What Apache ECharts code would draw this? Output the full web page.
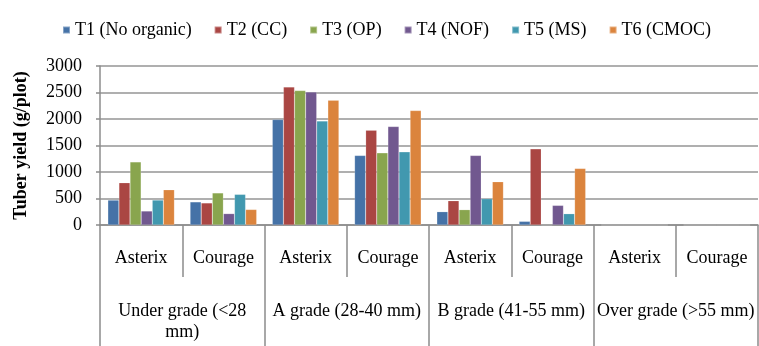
<!DOCTYPE html>
<html><head><meta charset="utf-8">
<script src="https://cdn.jsdelivr.net/npm/echarts@6/dist/echarts.min.js"></script>
<style>html,body{margin:0;padding:0;background:#fff}#c{width:759px;height:346px}</style>
</head><body><div id="c"></div>
<script>
const varieties = ['Asterix','Courage','Asterix','Courage','Asterix','Courage','Asterix','Courage'];
const grades = ['Under grade (<28\nmm)','A grade (28-40 mm)','B grade (41-55 mm)','Over grade (>55 mm)'];
const seriesNames = ['T1 (No organic)','T2 (CC)','T3 (OP)','T4 (NOF)','T5 (MS)','T6 (CMOC)'];
const T1 = [470, 436, 1990, 1312, 251, 69, 0, 0];
const T2 = [797, 416, 2605, 1789, 458, 1437, 0, 0];
const T3 = [1190, 605, 2536, 1362, 289, 0, 0, 0];
const T4 = [264, 215, 2510, 1858, 1312, 370, 0, 0];
const T5 = [471, 578, 1964, 1381, 496, 213, 0, 0];
const T6 = [665, 293, 2353, 2159, 816, 1067, 0, 0];
const yTicks = [0, 500, 1000, 1500, 2000, 2500, 3000];
const colors = ['#4572A7','#AA4643','#89A54E','#71588F','#4198AF','#DB843D'];
const values = [T1, T2, T3, T4, T5, T6];
const font = 'Liberation Serif, Times New Roman, serif';
const chart = echarts.init(document.getElementById('c'));
chart.setOption({
  animation: false,
  textStyle: {fontFamily: font, color: '#000'},
  legend: {
    left: 57, top: 16, itemWidth: 7, itemHeight: 7, itemGap: 22,
    icon: 'rect',
    textStyle: {fontFamily: font, fontSize: 18, color: '#000'},
    data: seriesNames
  },
  grid: {left: 100, right: 1, top: 66, bottom: 121},
  xAxis: [{
    type: 'category', data: varieties, position: 'bottom',
    axisLine: {lineStyle: {color: '#8c8c8c', width: 1.5}},
    axisTick: {show: true, interval: 0, length: 52, lineStyle: {color: '#8c8c8c', width: 1.5}},
    axisLabel: {interval: 0, fontFamily: font, fontSize: 18, color: '#000', margin: 24}
  }, {
    type: 'category', data: grades, position: 'bottom',
    axisLine: {show: false},
    axisTick: {show: true, interval: 0, length: 121, lineStyle: {color: '#8c8c8c', width: 1.5}},
    axisLabel: {interval: 0, fontFamily: font, fontSize: 18, color: '#000', margin: 76, lineHeight: 21, verticalAlign: 'top'}
  }],
  yAxis: {
    type: 'value', min: 0, max: 3000, interval: 500,
    name: 'Tuber yield (g/plot)', nameLocation: 'middle', nameGap: 70,
    nameTextStyle: {fontFamily: font, fontSize: 18, fontWeight: 'bold', color: '#000'},
    axisLine: {show: true, lineStyle: {color: '#8c8c8c', width: 1.5}},
    axisTick: {show: true, length: 4, lineStyle: {color: '#8c8c8c', width: 1.5}},
    splitLine: {lineStyle: {color: '#949494', width: 1.5}},
    axisLabel: {fontFamily: font, fontSize: 18, color: '#000', margin: 18,
      formatter: v => yTicks.includes(v) ? String(v) : ''}
  },
  series: seriesNames.map((n, i) => ({
    name: n, type: 'bar', xAxisIndex: 0, data: values[i],
    barGap: '0%', barCategoryGap: '19%',
    itemStyle: {color: colors[i], borderColor: 'rgba(255,255,255,0.35)', borderWidth: 0.5}
  }))
});
</script></body></html>
